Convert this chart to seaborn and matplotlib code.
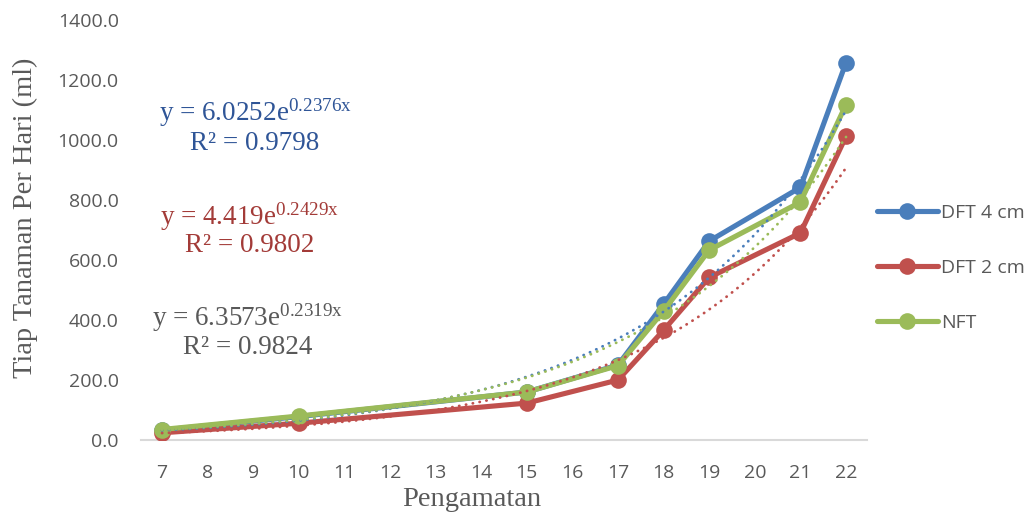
import numpy as np
import pandas as pd
import matplotlib
matplotlib.use("Agg")
import matplotlib.pyplot as plt
import seaborn as sns

# ---- data ----
days = [7, 10, 15, 17, 18, 19, 21, 22]
dft4 = [33, 78, 160, 250, 453, 663, 842, 1258]
dft2 = [24, 56, 123, 200, 366, 542, 690, 1012]
nft = [35, 80, 160, 248, 430, 633, 793, 1118]
series_names = ["DFT 4 cm", "DFT 2 cm", "NFT"]
colors = ["#4A7EBB", "#C0504D", "#9BBB59"]
eq_colors = ["#2F5597", "#A33B38", "#595959"]
equations = [("y = 6.0252e$^{0.2376x}$", "R² = 0.9798"),
             ("y = 4.419e$^{0.2429x}$", "R² = 0.9802"),
             ("y = 6.3573e$^{0.2319x}$", "R² = 0.9824")]
xticks = list(range(7, 23))
yticks = [0, 200, 400, 600, 800, 1000, 1200, 1400]

df = pd.DataFrame({
    "x": days * 3,
    "y": dft4 + dft2 + nft,
    "series": sum([[n] * len(days) for n in series_names], []),
})

sns.set_theme(style="white")
plt.rcParams["mathtext.fontset"] = "custom"
plt.rcParams["mathtext.rm"] = "Liberation Serif"
plt.rcParams["mathtext.it"] = "Liberation Serif"
plt.rcParams["mathtext.default"] = "rm"

fig = plt.figure(figsize=(10.28, 5.12), dpi=100)
ax = fig.add_axes([141 / 1028, 1 - 440 / 512, (867 - 141) / 1028, 420 / 512])

sns.lineplot(data=df, x="x", y="y", hue="series", hue_order=series_names,
             palette=colors, marker="o", markersize=12, linewidth=3.7,
             markeredgewidth=0, ax=ax, zorder=3)

# exponential trendlines (fitted)
xs = np.linspace(7, 22, 200)
for vals, c in zip([dft4, dft2, nft], colors):
    b, lna = np.polyfit(days, np.log(vals), 1)
    ax.plot(xs, np.exp(lna) * np.exp(b * xs), linestyle=(0, (0.1, 2.4)),
            color=c, linewidth=2.0, dash_capstyle="round", zorder=4)

ax.set_xlim(6.54, 22.46)
ax.set_ylim(0, 1400)
ax.set_xticks(xticks)
ax.set_yticks(yticks)
ax.set_yticklabels([f"{v:.1f}" for v in yticks])
ax.tick_params(length=0, labelsize=14, colors="#595959")
ax.tick_params(axis="x", pad=17)
ax.tick_params(axis="y", pad=16)
for lab in ax.get_xticklabels() + ax.get_yticklabels():
    lab.set_fontfamily("Open Sans")
for s in ["top", "right", "left"]:
    ax.spines[s].set_visible(False)
ax.spines["bottom"].set_color("#D9D9D9")
ax.spines["bottom"].set_linewidth(1.5)
ax.grid(False)

ax.set_xlabel("Pengamatan", fontfamily="Liberation Serif", fontsize=20.5,
              color="#595959", va="center")
ax.set_ylabel("Tiap Tanaman Per Hari (ml)", fontfamily="Liberation Serif",
              fontsize=20.5, color="#595959", va="center")
ax.xaxis.set_label_coords((472 - 141) / 726, -(499 - 440) / 420)
ax.yaxis.set_label_coords(-(141 - 25) / 726, (440 - 218) / 420)

eq_pos = [(255, 113, 143), (250, 217, 246), (248, 318, 347)]
for (eq, r2), c, (px, py1, py2) in zip(equations, eq_colors, eq_pos):
    fig.text(px / 1028, 1 - py1 / 512, eq, ha="center", va="center",
             fontfamily="Liberation Serif", fontsize=19.5, color=c)
    fig.text(px / 1028, 1 - py2 / 512, r2, ha="center", va="center",
             fontfamily="Liberation Serif", fontsize=19.5, color=c)

handles, labels = ax.get_legend_handles_labels()
leg = ax.legend(handles[:3], labels[:3], loc="center left",
                bbox_to_anchor=(0.99, 0.41), frameon=False, labelspacing=1.9,
                handlelength=3.1, handletextpad=0.2,
                prop={"family": "Open Sans", "size": 14})
for t in leg.get_texts():
    t.set_color("#595959")

fig.savefig("out.png", dpi=100, facecolor="white")
